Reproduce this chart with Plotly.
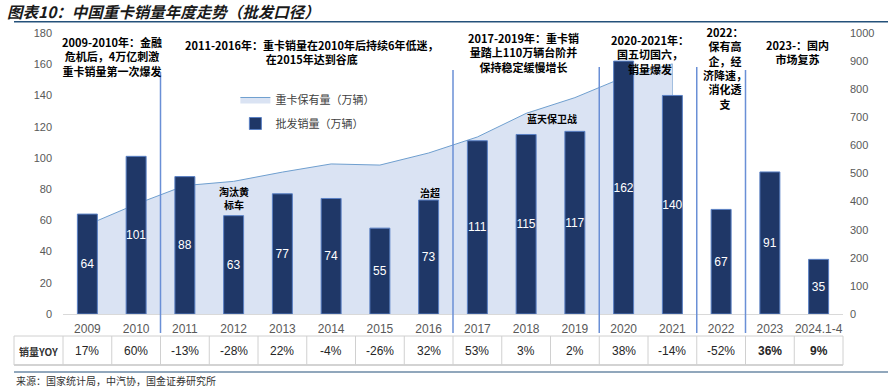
import plotly.graph_objects as go

years = ["2009", "2010", "2011", "2012", "2013", "2014", "2015", "2016",
         "2017", "2018", "2019", "2020", "2021", "2022", "2023", "2024.1-4"]
sales = [64, 101, 88, 63, 77, 74, 55, 73, 111, 115, 117, 162, 140, 67, 91, 35]
stock_years = years[:13]
stock = [317, 391, 457, 472, 505, 534, 530, 573, 630, 714, 770, 842, 890]
yoy = ["17%", "60%", "-13%", "-28%", "22%", "-4%", "-26%", "32%",
       "53%", "3%", "2%", "38%", "-14%", "-52%", "36%", "9%"]
yoy_bold = [False] * 14 + [True, True]

period_notes = [
    (0.5, 0.918, "2009-2010年：金融<br>危机后，4万亿刺激<br>重卡销量第一次爆发"),
    (4.6, 0.932, "2011-2016年：重卡销量在2010年后持续6年低迷，<br>在2015年达到谷底"),
    (8.95, 0.931, "2017-2019年：重卡销<br>量踏上110万辆台阶并<br>保持稳定缓慢增长"),
    (11.54, 0.923, "2020-2021年：<br>国五切国六，<br>销量爆发"),
    (13.08, 0.877, "2022：<br>保有高<br>企，经<br>济降速，<br>消化透<br>支"),
    (14.56, 0.932, "2023-：国内<br>市场复苏"),
]
event_notes = [
    (3.0, 0.412, "淘汰黄<br>标车"),
    (7.03, 0.431, "治超"),
    (9.53, 0.694, "蓝天保卫战"),
]
separators = [(1.5, 0.861), (7.5, 0.868), (10.5, 0.879), (12.5, 0.879), (13.5, 0.868)]

CJK = "Noto Sans CJK SC"
NUM = "Liberation Sans, Arial"
GRAY = "#595959"

fig = go.Figure()
fig.add_trace(go.Scatter(
    x=stock_years, y=stock, name="重卡保有量（万辆）", mode="lines",
    line=dict(color="#6f9fcf", width=1), fill="tozeroy",
    fillcolor="rgb(218,227,243)", xaxis="x", yaxis="y", legendgroup="a"))
fig.add_trace(go.Bar(
    x=years, y=sales, name="批发销量（万辆）", xaxis="x", yaxis="y2",
    marker=dict(color="#1f3767", line=dict(color="#5a80c4", width=1)),
    width=0.41, text=sales, textposition="inside", insidetextanchor="middle",
    textangle=0, constraintext="none",
    textfont=dict(color="white", size=12, family=NUM), legendgroup="b"))

shapes = []
shapes.append(dict(type="line", xref="x", yref="y", x0=len(stock) - 1, x1=len(stock) - 1,
                   y0=0, y1=stock[-1], line=dict(color="#6f9fcf", width=1), layer="below"))
for xv, top in separators:
    shapes.append(dict(type="line", xref="x", yref="paper", x0=xv, x1=xv,
                       y0=-0.0676, y1=top, line=dict(color="#6a8fd6", width=1.5)))

t_top, t_bot, t_mid = -0.0783, -0.1815, -0.1317
x_left = -0.0628
gridc = "#d0d0d0"
shapes.append(dict(type="line", xref="paper", yref="paper", x0=x_left, x1=1.0,
                   y0=t_top, y1=t_top, line=dict(color=gridc, width=1)))
shapes.append(dict(type="line", xref="paper", yref="paper", x0=x_left, x1=1.0,
                   y0=t_bot, y1=t_bot, line=dict(color="#c4c4c4", width=1.5)))
for i in range(len(years) + 1):
    xp = i / len(years)
    shapes.append(dict(type="line", xref="paper", yref="paper", x0=xp, x1=xp,
                       y0=t_top, y1=t_bot, line=dict(color=gridc, width=1)))
shapes.append(dict(type="line", xref="paper", yref="paper", x0=x_left, x1=x_left,
                   y0=t_top, y1=t_bot, line=dict(color=gridc, width=1)))
shapes.append(dict(type="line", xref="paper", yref="paper", x0=x_left, x1=1.06,
                   y0=1.040, y1=1.040, line=dict(color="#24517a", width=1.5)))
shapes.append(dict(type="line", xref="paper", yref="paper", x0=x_left, x1=1.06,
                   y0=-0.2064, y1=-0.2064, line=dict(color="#24517a", width=1.2)))

annotations = []
annotations.append(dict(xref="paper", yref="paper", x=-0.0744, y=1.078, xanchor="left",
                        yanchor="middle", showarrow=False,
                        text="<b><i>图表10：中国重卡销量年度走势（批发口径）</i></b>",
                        font=dict(family=CJK, size=15.5, color="#1a1a1a")))
annotations.append(dict(xref="paper", yref="paper", x=x_left, y=-0.235, xanchor="left",
                        yanchor="middle", showarrow=False,
                        text="来源：国家统计局，中汽协，国金证券研究所",
                        font=dict(family=CJK, size=10, color="#333333")))
for xv, yv, txt in period_notes:
    annotations.append(dict(xref="x", yref="paper", x=xv, y=yv, showarrow=False,
                            xanchor="center", yanchor="middle",
                            text="<b>" + txt + "</b>", align="center",
                            font=dict(family=CJK, size=11, color="black")))
for xv, yv, txt in event_notes:
    annotations.append(dict(xref="x", yref="paper", x=xv, y=yv, showarrow=False,
                            xanchor="center", yanchor="middle",
                            text="<b>" + txt + "</b>", align="center",
                            font=dict(family=CJK, size=10, color="black")))
annotations.append(dict(xref="paper", yref="paper", x=-0.032, y=t_mid, showarrow=False,
                        xanchor="center", yanchor="middle",
                        text="<b>销量YOY</b>", font=dict(family=CJK, size=10, color="#333333")))
for i, (v, b) in enumerate(zip(yoy, yoy_bold)):
    annotations.append(dict(xref="x", yref="paper", x=i, y=t_mid, showarrow=False,
                            xanchor="center", yanchor="middle",
                            text=f"<b>{v}</b>" if b else v,
                            font=dict(family=NUM, size=12, color="#262626")))

fig.update_layout(
    width=888, height=387, margin=dict(l=63, r=45, t=33, b=73),
    paper_bgcolor="white", plot_bgcolor="white",
    showlegend=True,
    legend=dict(x=0.221, y=0.815, xanchor="left", yanchor="top",
                bgcolor="rgba(0,0,0,0)", font=dict(family=CJK, size=11, color="#404040"),
                tracegroupgap=5, itemwidth=30),
    xaxis=dict(type="category", categoryorder="array", categoryarray=years,
               range=[-0.5, len(years) - 0.5], showline=True, linecolor="#d9d9d9",
               ticks="", showgrid=False, ticklabelstandoff=4,
               tickfont=dict(family=NUM, size=12, color=GRAY)),
    yaxis=dict(side="right", range=[0, 1000], dtick=100, showgrid=False, zeroline=False,
               ticks="", ticklabelstandoff=6, tickfont=dict(family=NUM, size=11, color=GRAY)),
    yaxis2=dict(side="left", overlaying="y", range=[0, 180], dtick=20, showgrid=False,
                zeroline=False, ticks="", ticklabelstandoff=10,
                tickfont=dict(family=NUM, size=11, color=GRAY)),
    shapes=shapes, annotations=annotations, bargap=0.59,
)
fig.write_html("out.html", config={"displayModeBar": False},
               post_script="document.body.style.margin='0';document.body.style.overflow='hidden';")
